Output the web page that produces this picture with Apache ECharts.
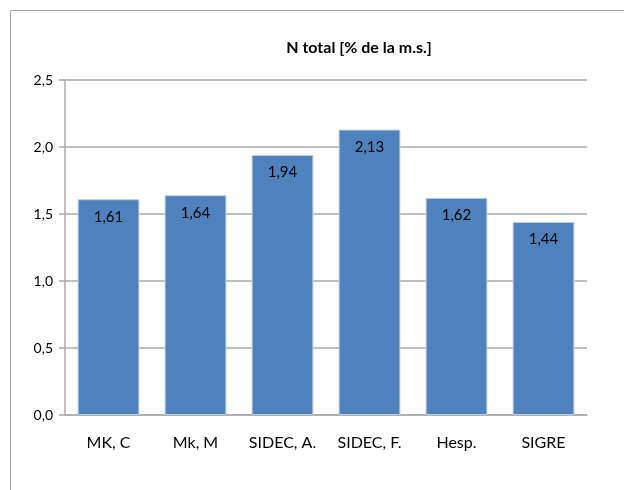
<!DOCTYPE html>
<html>
<head>
<meta charset="utf-8">
<script src="https://cdn.jsdelivr.net/npm/echarts@6/dist/echarts.min.js"></script>
<style>
  html, body { margin: 0; padding: 0; background: #fff; }
  #chart { width: 624px; height: 490px; }
</style>
</head>
<body>
<div id="chart"></div>
<script>
const categories = ['MK, C', 'Mk, M', 'SIDEC, A.', 'SIDEC, F.', 'Hesp.', 'SIGRE'];
const nTotal = [1.61, 1.64, 1.94, 2.13, 1.62, 1.44];
const yTicks = [0, 0.5, 1.0, 1.5, 2.0, 2.5];

// Lato is the closest installed match to Calibri
const font = "Lato, 'Open Sans', sans-serif";
const comma = (v, d) => v.toFixed(d).replace('.', ',');
const lineGray = { color: '#ababab', width: 1.5 };

const chart = echarts.init(document.getElementById('chart'));
chart.setOption({
  animation: false,
  title: {
    text: 'N total [% de la m.s.]',
    left: 354, top: 35, textAlign: 'center',
    textStyle: { fontFamily: font, fontSize: 16, fontWeight: 'bold', color: '#000' }
  },
  graphic: [{
    type: 'rect',
    shape: { x: 10.5, y: 10.5, width: 700, height: 600 },
    style: { fill: 'none', stroke: '#a6a6a6', lineWidth: 1 },
    silent: true
  }],
  grid: { left: 65, right: 37, top: 80, bottom: 75 },
  xAxis: {
    type: 'category',
    data: categories,
    axisLine: { lineStyle: lineGray },
    axisTick: { length: 6, lineStyle: lineGray },
    axisLabel: { interval: 0, fontFamily: font, fontSize: 16, color: '#000', margin: 20 }
  },
  yAxis: {
    type: 'value',
    min: yTicks[0], max: yTicks[yTicks.length - 1], interval: yTicks[1] - yTicks[0],
    axisLine: { show: true, lineStyle: lineGray },
    axisTick: { show: true, length: 6, lineStyle: lineGray },
    splitLine: { lineStyle: lineGray },
    axisLabel: { fontFamily: font, fontSize: 14, color: '#000', margin: 12, formatter: v => comma(v, 1) }
  },
  series: [{
    type: 'bar',
    data: nTotal,
    barCategoryGap: '29%',
    itemStyle: { color: '#4f81bd', borderColor: '#b9cde5', borderWidth: 1 },
    label: {
      show: true, position: 'insideTop', distance: 10,
      fontFamily: font, fontSize: 15, color: '#000',
      formatter: p => comma(p.value, 2)
    }
  }]
});
</script>
</body>
</html>
